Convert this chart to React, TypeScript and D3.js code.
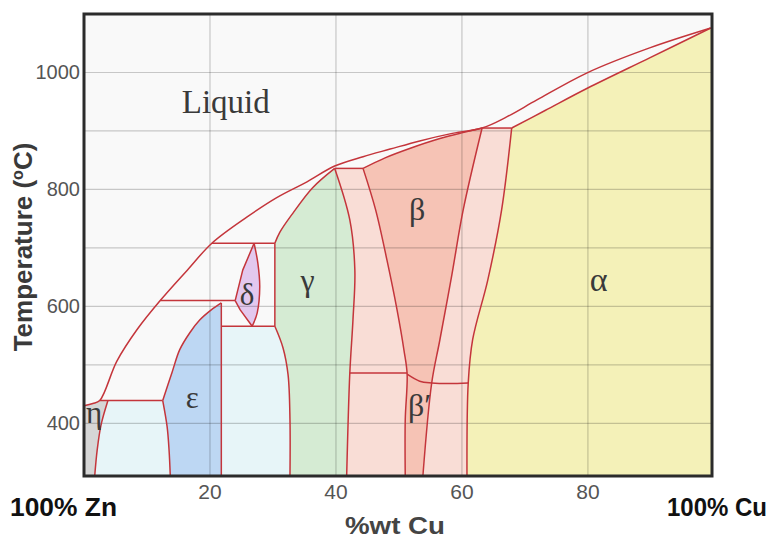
import React from 'react';
import * as d3 from 'd3';

// phase boundaries: [wt% Cu, temperature °C]
const liquidus = [[0, 430], [1.4, 434], [2.5, 439], [5.2, 506], [8.4, 560], [12.1, 610], [16.4, 662], [20.3, 708], [25.9, 753], [30.6, 786], [35.4, 813], [39.8, 840], [44.3, 856], [48.6, 869], [53.3, 883], [58.1, 895], [63.2, 905], [67.1, 924], [71.9, 953], [79.8, 999], [89.8, 1042], [99.5, 1076]];
const alphaSolidus = [[67.9, 905], [73.2, 935], [79.9, 973], [89.8, 1025], [99.5, 1076]];
const betaTop = [[44.3, 836], [47.8, 854], [51.7, 870], [56.5, 887], [60.5, 898], [63.2, 905]];
const gammaLeftUpper = [[39.8, 836], [36.3, 803], [33.2, 760], [31.1, 727], [30.3, 708]];
const gammaLeftLower = [[30.3, 566], [31.6, 529], [32.4, 483], [32.7, 406], [32.7, 310]];
const gammaRight = [[39.8, 836], [42.2, 748], [43.0, 662], [42.7, 577], [42.2, 486], [41.7, 310]];
const betaLeft = [[44.3, 836], [46.3, 765], [48.1, 679], [49.7, 594], [50.8, 525], [51.3, 484], [51.0, 406], [51.0, 310]];
const betaRight = [[63.2, 905], [60.2, 765], [58.4, 654], [56.5, 543], [55.2, 469], [53.8, 310]];
const alphaLeft = [[67.9, 905], [66.3, 765], [64.1, 645], [61.7, 543], [61.0, 469], [60.8, 310]];
const orderingCurve = [[51.3, 484], [53.3, 472], [55.2, 469], [58.0, 468], [61.0, 469]];
const epsLeftUpper = [[12.5, 439], [14.0, 488], [15.2, 526], [16.8, 555], [18.4, 577], [20.2, 594], [21.8, 606]];
const epsLeftLower = [[12.5, 439], [13.2, 394], [13.5, 355], [13.7, 310]];
const etaRight = [[3.8, 439], [2.7, 397], [2.1, 355], [1.7, 310]];
const deltaLeftUpper = [[27.0, 708], [25.2, 662], [24.0, 610]];
const deltaLeftLower = [[24.0, 610], [24.8, 594], [26.7, 566]];
const deltaRight = [[27.0, 708], [27.6, 674], [27.9, 633], [27.5, 589], [26.7, 566]];
// horizontal lines: [temperature, from %Cu, to %Cu]
const isotherms = [[439, 2.5, 12.5], [610, 12.1, 24.0], [708, 20.3, 30.3], [566, 21.8, 30.3], [836, 39.8, 44.3], [905, 63.2, 67.9], [486, 42.2, 51.3]];
// vertical lines: [%Cu, from T, to T]
const verticals = [[21.8, 606, 310], [30.3, 708, 566]];

const xTicks = [20, 40, 60, 80];
const yTicks = [400, 600, 800, 1000];
const yGrid = [400, 500, 600, 700, 800, 900, 1000];

const phaseLabels = [
  { text: 'Liquid', x: 22.5, t: 930, size: 33 },
  { text: 'α', x: 81.7, t: 626, size: 34 },
  { text: 'β', x: 52.9, t: 747, size: 32 },
  { text: 'γ', x: 35.5, t: 626, size: 32 },
  { text: 'δ', x: 25.9, t: 602, size: 31 },
  { text: 'ε', x: 17.2, t: 427, size: 31 },
  { text: 'η', x: 1.6, t: 400, size: 31 },
  { text: 'β′', x: 53.3, t: 412, size: 32 },
];

const W = 773;
const H = 540;
const CU_MAX = 99.7;
const T_MIN = 310;
const T_MAX = 1100;

export default function App() {
  const x = d3.scaleLinear().domain([0, CU_MAX]).range([84, 712]);
  const y = d3.scaleLinear().domain([T_MIN, T_MAX]).range([476, 14]);

  const curve = d3.line<number[]>().x(d => x(d[0])).y(d => y(d[1])).curve(d3.curveCatmullRom.alpha(0.5));
  const straight = d3.line<number[]>().x(d => x(d[0])).y(d => y(d[1]));

  const rev = (a: number[][]) => a.slice().reverse();
  // corners of a polygon, drawn with straight segments
  const corners = (...pts: number[][]) => ({ pts });
  // join several pieces into one closed outline
  const region = (...parts: any[]) =>
    parts.map((p, i) => {
      const s = (Array.isArray(p) ? curve(p) : straight(p.pts)) || '';
      return i === 0 ? s : s.replace(/^M/, 'L');
    }).join('') + 'Z';

  const fills = [
    { c: '#d6d6d6', d: region(liquidus.slice(0, 3), corners([2.5, 439], [3.8, 439]), etaRight, corners([1.7, T_MIN], [0, T_MIN])) },
    { c: '#e7f5f8', d: region(corners([3.8, 439], [12.5, 439]), epsLeftLower, corners([13.7, T_MIN], [1.7, T_MIN]), rev(etaRight)) },
    { c: '#bdd7f3', d: region(epsLeftUpper, corners([21.8, 606], [21.8, T_MIN]), rev(epsLeftLower)) },
    { c: '#e7f5f8', d: region(corners([21.8, 566], [30.3, 566]), gammaLeftLower, corners([32.7, T_MIN], [21.8, T_MIN])) },
    { c: '#e3c8ee', d: region(corners(...deltaLeftUpper, ...deltaLeftLower.slice(1)), rev(deltaRight)) },
    { c: '#d5ebd3', d: region(gammaLeftUpper, corners([30.3, 708], [30.3, 566]), gammaLeftLower, corners([32.7, T_MIN], [41.7, T_MIN]), rev(gammaRight)) },
    { c: '#f9ddd6', d: region(corners([39.8, 836], [44.3, 836]), betaLeft, corners([51.0, T_MIN], [41.7, T_MIN]), rev(gammaRight)) },
    { c: '#f6c3b5', d: region(betaTop, betaRight, corners([53.8, T_MIN], [51.0, T_MIN]), rev(betaLeft)) },
    { c: '#f9ddd6', d: region(corners([63.2, 905], [67.9, 905]), alphaLeft, corners([60.8, T_MIN], [53.8, T_MIN]), rev(betaRight)) },
    { c: '#f4f1b8', d: region(alphaSolidus, corners([99.5, 1076], [CU_MAX, 1076], [CU_MAX, T_MIN], [60.8, T_MIN]), rev(alphaLeft)) },
  ];

  const boundaries = [liquidus, alphaSolidus, betaTop, gammaLeftUpper, gammaLeftLower, gammaRight, betaLeft, betaRight, alphaLeft, orderingCurve, epsLeftUpper, epsLeftLower, etaRight, deltaRight];
  const straightBits = [deltaLeftUpper, deltaLeftLower];

  const numFont = '"Liberation Sans Narrow", "Liberation Sans", Arial, sans-serif';

  return (
    <svg width={W} height={H} style={{ position: 'absolute', left: 0, top: 0, display: 'block', background: '#fff' }}>
      <rect x={x(0)} y={y(T_MAX)} width={x(CU_MAX) - x(0)} height={y(T_MIN) - y(T_MAX)} fill="#f9f9f9" />
      {fills.map((f, i) => <path key={i} d={f.d} fill={f.c} stroke="none" />)}

      {xTicks.map(v => <line key={'gx' + v} x1={x(v)} x2={x(v)} y1={y(T_MAX)} y2={y(T_MIN)} stroke="#000" strokeOpacity={0.2} strokeWidth={1.2} />)}
      {yGrid.map(v => <line key={'gy' + v} x1={x(0)} x2={x(CU_MAX)} y1={y(v)} y2={y(v)} stroke="#000" strokeOpacity={0.2} strokeWidth={1.2} />)}

      <g fill="none" stroke="#c4353b" strokeWidth={1.5} strokeLinejoin="round">
        {boundaries.map((b, i) => <path key={'b' + i} d={curve(b) || ''} />)}
        {straightBits.map((b, i) => <path key={'s' + i} d={straight(b) || ''} />)}
        {isotherms.map((h, i) => <line key={'h' + i} x1={x(h[1])} x2={x(h[2])} y1={y(h[0])} y2={y(h[0])} />)}
        {verticals.map((v, i) => <line key={'v' + i} x1={x(v[0])} x2={x(v[0])} y1={y(v[1])} y2={y(v[2])} />)}
      </g>

      {phaseLabels.map(l => (
        <text key={l.text} x={x(l.x)} y={y(l.t)} textAnchor="middle" fontFamily='"Liberation Serif", "Times New Roman", serif' fontSize={l.size} fill="#3a3a3a">{l.text}</text>
      ))}

      <rect x={x(0)} y={y(T_MAX)} width={x(CU_MAX) - x(0)} height={y(T_MIN) - y(T_MAX)} fill="none" stroke="#2b2b2b" strokeWidth={3} />

      {yTicks.map(v => (
        <text key={'yt' + v} x={80} y={y(v)} dy="0.35em" textAnchor="end" fontFamily={numFont} fontSize={20} fill="#555">{v}</text>
      ))}
      {xTicks.map(v => (
        <text key={'xt' + v} x={x(v)} y={492} dy="0.35em" textAnchor="middle" fontFamily={numFont} fontSize={21} fill="#555">{v}</text>
      ))}

      <text transform="translate(32,247) rotate(-90)" textAnchor="middle" fontFamily='"Liberation Sans", Arial, sans-serif' fontWeight="bold" fontSize={26} fill="#3a3a3a">
        Temperature (<tspan fontSize={16} dy={-9}>o</tspan><tspan dy={9}>C)</tspan>
      </text>
      <text x={10} y={516} fontFamily={numFont} fontWeight="bold" fontSize={25} fill="#111" textLength={107} lengthAdjust="spacingAndGlyphs">100% Zn</text>
      <text x={667} y={516} fontFamily={numFont} fontWeight="bold" fontSize={25} fill="#111" textLength={100} lengthAdjust="spacingAndGlyphs">100% Cu</text>
      <text x={345} y={534} fontFamily={numFont} fontWeight="bold" fontSize={24} fill="#444" textLength={100} lengthAdjust="spacingAndGlyphs">%wt Cu</text>
    </svg>
  );
}
